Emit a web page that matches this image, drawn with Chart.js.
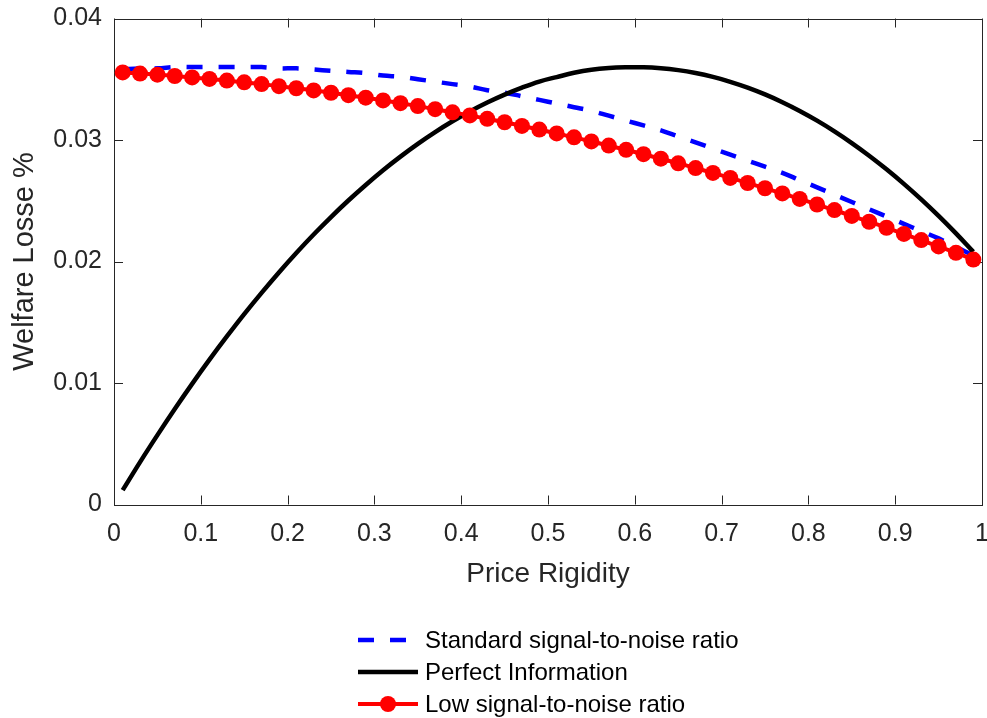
<!DOCTYPE html>
<html>
<head>
<meta charset="utf-8">
<script src="https://cdn.jsdelivr.net/npm/chart.js@4"></script>
<style>
  html, body { margin: 0; padding: 0; background: #fff; overflow: hidden; }
  #wrap { width: 987px; height: 718px; overflow: hidden; }
  #chart { display: block; }
</style>
</head>
<body>
<div id="wrap"><canvas id="chart" width="990" height="718"></canvas></div>
<script>
// price rigidity grid (x)
const rigidity = [
  0.01, 0.03, 0.05, 0.07, 0.09, 0.11, 0.13, 0.15, 0.17, 0.19,
  0.21, 0.23, 0.25, 0.27, 0.29, 0.31, 0.33, 0.35, 0.37, 0.39,
  0.41, 0.43, 0.45, 0.47, 0.49, 0.51, 0.53, 0.55, 0.57, 0.59,
  0.61, 0.63, 0.65, 0.67, 0.69, 0.71, 0.73, 0.75, 0.77, 0.79,
  0.81, 0.83, 0.85, 0.87, 0.89, 0.91, 0.93, 0.95, 0.97, 0.99
];

// welfare loss, standard signal-to-noise ratio
const standardLoss = [
  0.0358, 0.0359, 0.0359, 0.0360, 0.0360, 0.0360, 0.0360, 0.0360, 0.0360, 0.0359,
  0.0359, 0.0358, 0.0357, 0.0356, 0.0355, 0.0353, 0.0352, 0.0350, 0.0348, 0.0346,
  0.0344, 0.0341, 0.0339, 0.0336, 0.0333, 0.0330, 0.0327, 0.0324, 0.0320, 0.0316,
  0.0312, 0.0308, 0.0303, 0.0298, 0.0293, 0.0288, 0.0283, 0.0278, 0.0273, 0.0267,
  0.0261, 0.0255, 0.0249, 0.0243, 0.0237, 0.0231, 0.0225, 0.0219, 0.0212, 0.0205
];

// welfare loss, perfect information
const perfectLoss = [
  0.00118, 0.00349, 0.00571, 0.00786, 0.00993, 0.01192, 0.01383, 0.01567, 0.01742, 0.01910,
  0.02070, 0.02222, 0.02366, 0.02502, 0.02630, 0.02751, 0.02863, 0.02968, 0.03065, 0.03154,
  0.03235, 0.03308, 0.03373, 0.03431, 0.03481, 0.03518, 0.03553, 0.03578, 0.03592, 0.03598,
  0.03599, 0.03591, 0.03575, 0.03551, 0.03519, 0.03479, 0.03431, 0.03375, 0.03311, 0.03239,
  0.03159, 0.03071, 0.02975, 0.02871, 0.02759, 0.02639, 0.02511, 0.02375, 0.02231, 0.02079
];

// welfare loss, low signal-to-noise ratio
const lowLoss = [
  0.03556, 0.03547, 0.03538, 0.03527, 0.03515, 0.03503, 0.03489, 0.03475, 0.03460, 0.03443,
  0.03426, 0.03408, 0.03389, 0.03369, 0.03348, 0.03326, 0.03303, 0.03279, 0.03254, 0.03228,
  0.03202, 0.03174, 0.03146, 0.03116, 0.03086, 0.03054, 0.03022, 0.02988, 0.02954, 0.02919,
  0.02883, 0.02846, 0.02808, 0.02769, 0.02729, 0.02688, 0.02646, 0.02603, 0.02560, 0.02515,
  0.02469, 0.02423, 0.02375, 0.02327, 0.02278, 0.02227, 0.02176, 0.02124, 0.02071, 0.02016
];

const seriesNames = ['Standard signal-to-noise ratio', 'Perfect Information', 'Low signal-to-noise ratio'];

const FONT = "'Liberation Sans', Arial, Helvetica, sans-serif";
const AXIS_COLOR = '#262626';
const TICK_LEN = 9;

const toPoints = ys => ys.map((y, i) => ({ x: rigidity[i], y: y }));
const fmt = v => String(+(+v).toFixed(2));

// keep tick labels from shrinking the plot area
const noLabelPadding = scale => {
  scale.paddingLeft = 0;
  scale.paddingRight = 0;
  scale.paddingTop = 0;
  scale.paddingBottom = 0;
};

// box around the axes with inward ticks on all four sides
const axesBox = {
  id: 'axesBox',
  beforeDatasetsDraw(chart) {
    const { ctx, chartArea: a, scales: { x, y } } = chart;
    ctx.save();
    ctx.strokeStyle = AXIS_COLOR;
    ctx.lineWidth = 1;
    ctx.beginPath();
    x.ticks.forEach(t => {
      const px = Math.round(x.getPixelForValue(t.value)) + 0.5;
      ctx.moveTo(px, a.bottom); ctx.lineTo(px, a.bottom - TICK_LEN);
      ctx.moveTo(px, a.top); ctx.lineTo(px, a.top + TICK_LEN);
    });
    y.ticks.forEach(t => {
      const py = Math.round(y.getPixelForValue(t.value)) + 0.5;
      ctx.moveTo(a.left, py); ctx.lineTo(a.left + TICK_LEN, py);
      ctx.moveTo(a.right, py); ctx.lineTo(a.right - TICK_LEN, py);
    });
    ctx.stroke();
    ctx.strokeRect(Math.round(a.left) + 0.5, Math.round(a.top) + 0.5,
      Math.round(a.right - a.left), Math.round(a.bottom - a.top));
    ctx.restore();
  }
};

// matlab style legend below the axes
const bottomLegend = {
  id: 'bottomLegend',
  afterDraw(chart) {
    const ctx = chart.ctx;
    const x0 = 358, x1 = 418, textX = 425;
    const rowY = [640, 672, 704];
    ctx.save();
    chart.data.datasets.forEach((ds, i) => {
      const y = rowY[i];
      ctx.strokeStyle = ds.borderColor;
      ctx.lineWidth = ds.borderWidth;
      ctx.setLineDash(ds.borderDash || []);
      ctx.beginPath();
      ctx.moveTo(x0, y);
      ctx.lineTo(x1, y);
      ctx.stroke();
      ctx.setLineDash([]);
      if (ds.pointRadius > 0) {
        ctx.fillStyle = ds.pointBackgroundColor;
        ctx.beginPath();
        ctx.arc((x0 + x1) / 2, y, ds.pointRadius, 0, Math.PI * 2);
        ctx.fill();
      }
      ctx.fillStyle = '#000';
      ctx.font = '24px ' + FONT;
      ctx.textBaseline = 'middle';
      ctx.textAlign = 'left';
      ctx.fillText(ds.label, textX, y + 1);
    });
    ctx.restore();
  }
};

new Chart(document.getElementById('chart'), {
  type: 'line',
  data: {
    datasets: [
      {
        label: seriesNames[0],
        data: toPoints(standardLoss),
        borderColor: '#0000ff',
        borderWidth: 4.5,
        borderDash: [16, 16],
        pointRadius: 0,
        tension: 0.4,
        order: 2
      },
      {
        label: seriesNames[1],
        data: toPoints(perfectLoss),
        borderColor: '#000000',
        borderWidth: 4.5,
        pointRadius: 0,
        tension: 0.4,
        order: 1
      },
      {
        label: seriesNames[2],
        data: toPoints(lowLoss),
        borderColor: '#ff0000',
        borderWidth: 4,
        pointRadius: 8,
        pointBackgroundColor: '#ff0000',
        pointBorderWidth: 0,
        tension: 0.4,
        order: 0
      }
    ]
  },
  options: {
    responsive: false,
    animation: false,
    layout: { padding: { top: 18.5, right: 8, left: 0, bottom: 0 } },
    plugins: { legend: { display: false }, tooltip: { enabled: false } },
    scales: {
      x: {
        type: 'linear',
        min: 0,
        max: 1,
        grid: { display: false, drawTicks: false },
        border: { display: false },
        ticks: {
          stepSize: 0.1,
          padding: 15,
          color: AXIS_COLOR,
          font: { family: FONT, size: 25 },
          callback: v => fmt(v)
        },
        title: {
          display: true,
          text: 'Price Rigidity',
          color: AXIS_COLOR,
          font: { family: FONT, size: 28 },
          padding: { top: 0, bottom: 127 }
        },
        afterFit(scale) {
          scale.height = 213.5;
          noLabelPadding(scale);
        }
      },
      y: {
        type: 'linear',
        min: 0,
        max: 0.04,
        grid: { display: false, drawTicks: false },
        border: { display: false },
        ticks: {
          stepSize: 0.01,
          padding: 12,
          color: AXIS_COLOR,
          font: { family: FONT, size: 25 },
          callback: v => fmt(v)
        },
        title: {
          display: true,
          text: 'Welfare Losse %',
          color: AXIS_COLOR,
          font: { family: FONT, size: 29 },
          padding: { top: 8, bottom: 0 }
        },
        afterFit(scale) {
          scale.width = 114;
          noLabelPadding(scale);
        }
      }
    }
  },
  plugins: [axesBox, bottomLegend]
});
</script>
</body>
</html>
